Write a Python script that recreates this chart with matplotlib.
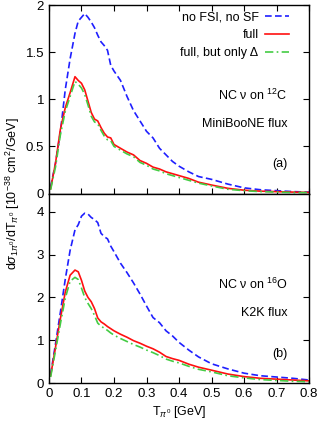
import matplotlib
matplotlib.use('Agg')
import matplotlib.pyplot as plt

plt.rcParams['font.family'] = ['Liberation Sans', 'DejaVu Sans']
plt.rcParams['mathtext.fontset'] = 'custom'
plt.rcParams['mathtext.rm'] = 'Liberation Sans'
plt.rcParams['mathtext.it'] = 'Liberation Sans:italic'
plt.rcParams['mathtext.sf'] = 'Liberation Sans'

# kinetic energy grid [GeV]
t_pi = [0.005, 0.02, 0.035, 0.05, 0.065, 0.08, 0.09, 0.10, 0.11, 0.12,
        0.13, 0.14, 0.15, 0.16, 0.17, 0.18, 0.19, 0.20, 0.22, 0.24,
        0.26, 0.28, 0.30, 0.32, 0.34, 0.36, 0.38, 0.40, 0.43, 0.46,
        0.50, 0.55, 0.60, 0.65, 0.70, 0.75, 0.80]

# (a) NC nu on 12C, MiniBooNE flux
c12_nofsi = [0.07, 0.32, 0.65, 1.10, 1.43, 1.70, 1.83, 1.87, 1.91, 1.87,
             1.82, 1.76, 1.68, 1.61, 1.57, 1.52, 1.36, 1.30, 1.20, 1.03,
             0.88, 0.77, 0.66, 0.59, 0.48, 0.41, 0.34, 0.29, 0.23, 0.18,
             0.15, 0.10, 0.06, 0.04, 0.03, 0.02, 0.015]
c12_full = [0.05, 0.32, 0.68, 0.91, 1.07, 1.24, 1.20, 1.17, 1.10, 0.98,
            0.86, 0.79, 0.77, 0.70, 0.64, 0.60, 0.59, 0.52, 0.48, 0.44,
            0.41, 0.35, 0.32, 0.28, 0.26, 0.23, 0.21, 0.19, 0.16, 0.12,
            0.09, 0.055, 0.035, 0.025, 0.02, 0.015, 0.012]
c12_delta = [0.04, 0.28, 0.62, 0.87, 1.03, 1.19, 1.16, 1.12, 1.05, 0.94,
             0.82, 0.76, 0.74, 0.67, 0.61, 0.57, 0.56, 0.50, 0.46, 0.42,
             0.39, 0.33, 0.30, 0.26, 0.24, 0.21, 0.19, 0.17, 0.14, 0.11,
             0.08, 0.045, 0.03, 0.02, 0.015, 0.01, 0.01]

# (b) NC nu on 16O, K2K flux
o16_nofsi = [0.20, 0.91, 1.65, 2.42, 3.10, 3.58, 3.70, 3.90, 3.97, 3.95,
             3.87, 3.82, 3.75, 3.50, 3.42, 3.37, 3.20, 3.07, 2.80, 2.58,
             2.34, 2.08, 1.80, 1.53, 1.41, 1.22, 1.10, 0.95, 0.77, 0.61,
             0.45, 0.33, 0.23, 0.17, 0.14, 0.11, 0.07]
o16_full = [0.17, 0.83, 1.50, 2.12, 2.52, 2.64, 2.60, 2.40, 2.15, 2.00,
            1.90, 1.74, 1.52, 1.43, 1.38, 1.32, 1.27, 1.22, 1.14, 1.07,
            0.99, 0.93, 0.86, 0.80, 0.72, 0.62, 0.57, 0.53, 0.44, 0.37,
            0.30, 0.21, 0.15, 0.11, 0.09, 0.07, 0.05]
o16_delta = [0.14, 0.75, 1.38, 1.98, 2.38, 2.47, 2.42, 2.22, 2.00, 1.86,
             1.74, 1.58, 1.40, 1.33, 1.28, 1.23, 1.17, 1.12, 1.04, 0.97,
             0.90, 0.84, 0.77, 0.71, 0.64, 0.56, 0.51, 0.47, 0.39, 0.32,
             0.26, 0.17, 0.12, 0.08, 0.06, 0.04, 0.03]

labels = ['no FSI, no SF', 'full', u'full, but only \u0394']
colors = ['#1f1fff', '#ff1010', '#44cc44']
styles = [(0, (4, 2)), '-', (0, (5, 2, 1, 2))]

fig = plt.figure(figsize=(3.18, 4.25), dpi=100)
left, right = 0.154, 0.972
ax1 = fig.add_axes([left, 0.5447, right - left, 0.988 - 0.5447])
ax2 = fig.add_axes([left, 0.0988, right - left, 0.5447 - 0.0988])

panels = [
    (ax1, [c12_nofsi, c12_full, c12_delta], 2.0, [0, 0.5, 1, 1.5, 2],
     ['0', '0.5', '1', '1.5', '2'], u'NC \u03bd on $^{12}$C', 'MiniBooNE flux', '(a)'),
    (ax2, [o16_nofsi, o16_full, o16_delta], 4.43, [0, 1, 2, 3, 4],
     ['0', '1', '2', '3', '4'], u'NC \u03bd on $^{16}$O', 'K2K flux', '(b)'),
]

for ax, curves, ymax, yt, ytl, line1, line2, tag in panels:
    for ys, lab, c, ls in zip(curves, labels, colors, styles):
        ax.plot(t_pi, ys, color=c, linestyle=ls, linewidth=1.2, label=lab)
    ax.set_xlim(0, 0.8)
    ax.set_ylim(0, ymax)
    ax.set_yticks(yt)
    ax.set_yticklabels(ytl)
    ax.set_xticks([0, 0.1, 0.2, 0.3, 0.4, 0.5, 0.6, 0.7, 0.8])
    ax.tick_params(direction='in', length=4, width=0.8, labelsize=9.5,
                   right=True, top=(ax is ax1))
    for s in ax.spines.values():
        s.set_linewidth(1.0)
    ax.text(0.918, 0.52, line1, transform=ax.transAxes, ha='right',
            va='center', fontsize=9)
    ax.text(0.918, 0.37, line2, transform=ax.transAxes, ha='right',
            va='center', fontsize=9)
    ax.text(0.918, 0.155, tag, transform=ax.transAxes, ha='right',
            va='center', fontsize=9)

ax1.tick_params(labelbottom=False)
ax2.set_xticklabels(['0', '0.1', '0.2', '0.3', '0.4', '0.5', '0.6', '0.7', '0.8'])

ax1.legend(loc='upper right', bbox_to_anchor=(0.95, 1.005), frameon=False,
           markerfirst=False, fontsize=9, handlelength=1.9, handletextpad=0.5,
           labelspacing=0.45, borderaxespad=0.2)

ax2.set_xlabel(r'T$_{\pi^0}$ [GeV]', fontsize=9, labelpad=3)
fig.text(0.04, 0.5447,
         r'd$\sigma_{1\pi^0}$/dT$_{\pi^0}$ [10$^{-38}$ cm$^2$/GeV]',
         rotation=90, ha='center', va='center', fontsize=9)

fig.savefig('out.png', dpi=100)
